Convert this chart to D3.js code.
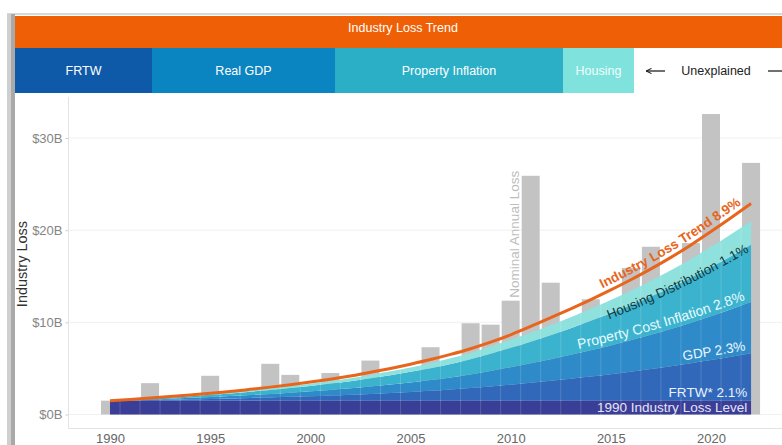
<!DOCTYPE html>
<html>
<head>
<meta charset="utf-8">
<script src="https://cdn.jsdelivr.net/npm/d3@7"></script>
<style>
  body { margin: 0; background: #fff; }
  svg { display: block; font-family: "Liberation Sans", Arial, Helvetica, sans-serif; }
</style>
</head>
<body>
<svg id="chart" width="782" height="445"></svg>
<script>
// ---- data (US$ billions) ----
const years = [1990,1991,1992,1993,1994,1995,1996,1997,1998,1999,2000,2001,2002,2003,2004,2005,
               2006,2007,2008,2009,2010,2011,2012,2013,2014,2015,2016,2017,2018,2019,2020,2021,2022];

// nominal annual industry loss (grey bars)
const nominalLoss = [1.5,1.0,3.4,1.1,1.6,4.2,1.5,1.2,5.5,4.3,2.2,4.5,2.5,5.85,3.0,3.3,
                     7.3,4.0,9.9,9.75,12.35,25.9,14.3,7.0,12.5,9.0,15.9,18.2,12.0,18.6,32.6,11.0,27.3];

// fitted industry loss trend (8.9% a year)
const trendLoss = [1.50,1.63,1.78,1.94,2.11,2.30,2.50,2.73,2.97,3.23,3.52,3.83,4.18,4.58,5.00,5.46,
                   5.96,6.52,7.14,7.85,8.65,9.55,10.50,11.47,12.47,13.52,14.62,15.80,17.05,18.40,19.85,21.35,22.90];

// stacked contributions to the trend
const baseLevel = [1.5,1.5,1.5,1.5,1.5,1.5,1.5,1.5,1.5,1.5,1.5,1.5,1.5,1.5,1.5,1.5,
                   1.5,1.5,1.5,1.5,1.5,1.5,1.5,1.5,1.5,1.5,1.5,1.5,1.5,1.5,1.5,1.5,1.5];
const frtwPart = [0,0.03,0.07,0.11,0.15,0.19,0.24,0.30,0.35,0.42,0.48,0.56,0.64,0.73,0.84,0.95,
                  1.07,1.21,1.37,1.55,1.74,1.94,2.16,2.39,2.63,2.88,3.14,3.43,3.73,4.06,4.40,4.76,5.14];
const gdpPart = [0,0.03,0.07,0.11,0.16,0.21,0.26,0.32,0.38,0.45,0.53,0.61,0.70,0.80,0.91,1.03,
                 1.16,1.31,1.48,1.68,1.89,2.11,2.34,2.59,2.85,3.12,3.41,3.72,4.04,4.39,4.77,5.16,5.56];
const propertyPart = [0,0.04,0.08,0.13,0.18,0.23,0.29,0.36,0.43,0.50,0.59,0.68,0.78,0.89,1.01,1.15,
                      1.29,1.46,1.65,1.87,2.10,2.35,2.61,2.89,3.18,3.48,3.80,4.15,4.51,4.90,5.32,5.76,6.21];
const housingPart = [0,0.02,0.03,0.05,0.07,0.10,0.12,0.15,0.18,0.21,0.24,0.28,0.32,0.37,0.42,0.47,
                     0.53,0.61,0.68,0.77,0.87,0.97,1.08,1.19,1.31,1.44,1.57,1.72,1.87,2.03,2.20,2.38,2.57];

const yTicks = [0, 10, 20, 30];
const yTickLabels = ["$0B", "$10B", "$20B", "$30B"];
const xTicks = [1990, 1995, 2000, 2005, 2010, 2015, 2020];

// header bands: [label, x start, x end, fill, text colour]
const headerBands = [
  ["FRTW", 15, 152, "#0f5aa8", "#ffffff"],
  ["Real GDP", 152, 335, "#0b85c1", "#ffffff"],
  ["Property Inflation", 335, 563, "#2aafc7", "#ffffff"],
  ["Housing", 563, 634, "#80e2dc", "#effffd"]
];

const layerKeys = ["base", "frtw", "gdp", "property", "housing"];
const layerColors = ["#3b3e96", "#3168ba", "#2e8ac8", "#3cb3ce", "#8fe1de"];

// ---- drawing ----
const svg = d3.select("#chart");
const W = 782, H = 445;

// slide frame
svg.append("rect").attr("x", 7).attr("y", 13).attr("width", W - 7).attr("height", 2).attr("fill", "#d8d8d8");
svg.append("rect").attr("x", 7).attr("y", 14).attr("width", 4).attr("height", H - 14).attr("fill", "#cfcfcf");
svg.append("rect").attr("x", 11).attr("y", 14).attr("width", 4).attr("height", H - 14).attr("fill", "#a9a9a9");

// header
svg.append("rect").attr("x", 15).attr("y", 16).attr("width", W - 15).attr("height", 32).attr("fill", "#ef5f05");
svg.append("text").attr("x", 403).attr("y", 28).attr("dy", "0.35em")
  .attr("text-anchor", "middle").attr("font-size", 12.5).attr("fill", "#fff")
  .text("Industry Loss Trend");

const hb = svg.append("g");
hb.selectAll("rect").data(headerBands).join("rect")
  .attr("x", d => d[1]).attr("y", 48).attr("width", d => d[2] - d[1]).attr("height", 45)
  .attr("fill", d => d[3]);
hb.selectAll("text").data(headerBands).join("text")
  .attr("x", d => (d[1] + d[2]) / 2).attr("y", 71).attr("dy", "0.35em")
  .attr("text-anchor", "middle").attr("font-size", 12.5).attr("fill", d => d[4])
  .text(d => d[0]);

// "Unexplained" with arrows
const defs = svg.append("defs");
defs.append("marker").attr("id", "arrowL")
  .attr("viewBox", "0 0 10 10").attr("refX", 0.5).attr("refY", 5)
  .attr("markerWidth", 5).attr("markerHeight", 5).attr("orient", "auto")
  .append("path").attr("d", "M9,1 L1,5 L9,9").attr("fill", "none").attr("stroke", "#222").attr("stroke-width", 1.6);
svg.append("line").attr("x1", 646).attr("x2", 665).attr("y1", 71).attr("y2", 71)
  .attr("stroke", "#222").attr("stroke-width", 1.3).attr("marker-start", "url(#arrowL)");
svg.append("text").attr("x", 716).attr("y", 71).attr("dy", "0.35em")
  .attr("text-anchor", "middle").attr("font-size", 12.5).attr("fill", "#222").text("Unexplained");
svg.append("line").attr("x1", 768).attr("x2", W).attr("y1", 71).attr("y2", 71)
  .attr("stroke", "#222").attr("stroke-width", 1.3);

// scales
const x = d3.scaleLinear().domain([1990, 2020]).range([110, 711]);
const y = d3.scaleLinear().domain([0, 30]).range([414.5, 138]);

// gridlines
svg.append("g").selectAll("line").data(yTicks).join("line")
  .attr("x1", 69).attr("x2", W).attr("y1", d => y(d)).attr("y2", d => y(d))
  .attr("stroke", "#f0f0f0").attr("stroke-width", 1);

// axes
const yAxis = svg.append("g").attr("transform", "translate(68.5,0)")
  .call(d3.axisLeft(y).tickValues(yTicks).tickFormat((d, i) => yTickLabels[i]).tickSize(3).tickPadding(3));
yAxis.select(".domain").remove();
yAxis.selectAll(".tick line").attr("stroke", "#cfcfcf");
yAxis.selectAll(".tick text").attr("fill", "#858585").attr("font-size", 13)
  .attr("font-family", "\"Liberation Sans\", Arial, sans-serif");

const xAxis = svg.append("g").attr("transform", "translate(0,428.5)")
  .call(d3.axisBottom(x).tickValues(xTicks).tickFormat(d3.format("d")).tickSize(0).tickPadding(5));
xAxis.select(".domain").remove();
xAxis.selectAll(".tick text").attr("fill", "#666").attr("font-size", 13)
  .attr("font-family", "\"Liberation Sans\", Arial, sans-serif");

svg.append("line").attr("x1", 68.5).attr("x2", 68.5).attr("y1", 97).attr("y2", 428.5)
  .attr("stroke", "#e3e3e3");
svg.append("line").attr("x1", 68.5).attr("x2", W).attr("y1", 428.5).attr("y2", 428.5)
  .attr("stroke", "#e3e3e3");

svg.append("text").attr("transform", `translate(27,${264}) rotate(-90)`)
  .attr("text-anchor", "middle").attr("font-size", 14.5).attr("fill", "#333")
  .text("Industry Loss");

// nominal loss bars
const barW = 18;
svg.append("g").selectAll("rect").data(years).join("rect")
  .attr("x", (d) => x(d) - barW / 2).attr("width", barW)
  .attr("y", (d, i) => y(nominalLoss[i]))
  .attr("height", (d, i) => y(0) - y(nominalLoss[i]))
  .attr("fill", "#c3c3c3");

const i2010 = years.indexOf(2010);
svg.append("text")
  .attr("transform", `translate(${x(2010) + 8.5},${y(nominalLoss[i2010]) - 3}) rotate(-90)`)
  .attr("font-size", 13.5).attr("fill", "#bdbdbd").text("Nominal Annual Loss");

// stacked decomposition
const rows = years.map((yr, i) => ({
  year: yr, base: baseLevel[i], frtw: frtwPart[i], gdp: gdpPart[i],
  property: propertyPart[i], housing: housingPart[i]
}));
const series = d3.stack().keys(layerKeys)(rows);

const area = d3.area()
  .x(d => x(d.data.year)).y0(d => y(d[0])).y1(d => y(d[1]))
  .curve(d3.curveMonotoneX);

svg.append("g").selectAll("path").data(series).join("path")
  .attr("d", area).attr("fill", (d, i) => layerColors[i]);

// faint yearly separators inside the stack
const stackTop = series[series.length - 1];
defs.append("clipPath").attr("id", "stackClip").append("path")
  .attr("d", d3.area().x(d => x(d.data.year)).y0(y(0)).y1(d => y(d[1])).curve(d3.curveMonotoneX)(stackTop));
svg.append("g").attr("clip-path", "url(#stackClip)")
  .selectAll("line").data(years.slice(0, -1)).join("line")
  .attr("x1", d => x(d + 0.5)).attr("x2", d => x(d + 0.5))
  .attr("y1", y(0)).attr("y2", y(30))
  .attr("stroke", "#ffffff").attr("stroke-opacity", 0.16).attr("stroke-width", 1);

// layer boundaries used to set labels
const boundary = d3.line().x(d => x(d.data.year)).y(d => y(d[1])).curve(d3.curveMonotoneX);
series.forEach((s, i) => {
  defs.append("path").attr("id", "b-" + layerKeys[i]).attr("d", boundary(s));
});
defs.append("path").attr("id", "b-zero")
  .attr("d", d3.line()([[x(1990), y(0)], [x(2022), y(0)]]));

// trend line
const trendPath = d3.line().x((d, i) => x(years[i])).y(d => y(d)).curve(d3.curveMonotoneX);
svg.append("path").attr("id", "trend").attr("d", trendPath(trendLoss))
  .attr("fill", "none").attr("stroke", "#e8651c").attr("stroke-width", 3);

// labels following the curves
function pathLabel(ref, txt, size, fill, dy, offset, weight) {
  svg.append("text").attr("font-size", size).attr("fill", fill)
    .attr("font-weight", weight || "normal").attr("text-anchor", "end")
    .append("textPath").attr("href", "#" + ref).attr("startOffset", offset)
    .append("tspan").attr("dy", dy).text(txt);
}
pathLabel("b-zero", "1990 Industry Loss Level", 13.5, "#e3e5f6", -3, "99.4%");
pathLabel("b-base", "FRTW* 2.1%", 13.5, "#eaf2ff", -4, "99.4%");
pathLabel("b-frtw", "GDP 2.3%", 13.5, "#eaf6ff", -4, "99.3%");
pathLabel("b-gdp", "Property Cost Inflation 2.8%", 14, "#e6fbff", -4, "99.3%");
pathLabel("b-property", "Housing Distribution 1.1%", 13.5, "#143a3c", 5, "99.3%");
pathLabel("trend", "Industry Loss Trend 8.9%", 13.5, "#e8651c", -5, "98.8%", "bold");
</script>
</body>
</html>
